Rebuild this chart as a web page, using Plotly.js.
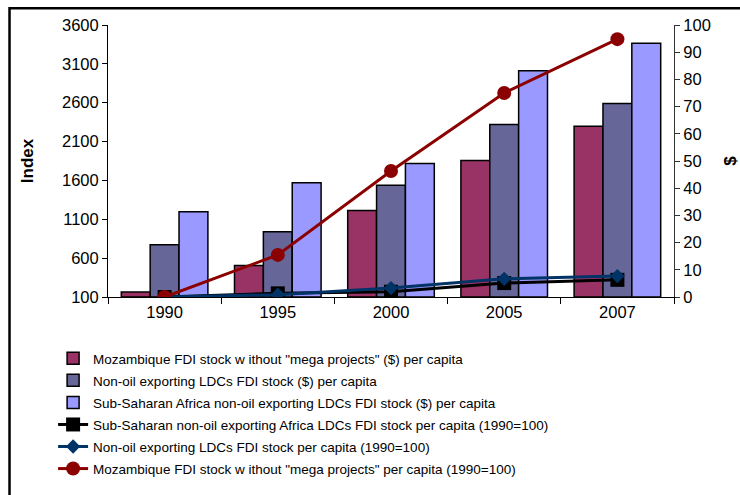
<!DOCTYPE html>
<html>
<head>
<meta charset="utf-8">
<script src="https://cdn.plot.ly/plotly-3.0.1.min.js"></script>
<style>
  html, body { margin: 0; padding: 0; background: #fff; overflow: hidden; }
  #chart { width: 740px; height: 495px; }
</style>
</head>
<body>
<div id="chart"></div>
<script>
// ---- data ----
const years = ["1990", "1995", "2000", "2005", "2007"];

// $ per capita (right axis)
const mozUsd    = [1.8, 11.6, 31.8, 50.2, 62.8];
const nonOilUsd = [19.2, 24.0, 41.1, 63.4, 71.1];
const ssaUsd    = [31.3, 42.0, 49.1, 83.2, 93.3];

// index 1990 = 100 (left axis)
const ssaIdx    = [100, 147, 168, 279, 321];
const nonOilIdx = [100, 130, 215, 334, 369];
const mozIdx    = [100, 642, 1721, 2725, 3418];

const names = {
  mozUsd: 'Mozambique FDI stock w ithout "mega projects" ($) per capita',
  nonOilUsd: 'Non-oil exporting LDCs FDI stock ($) per capita',
  ssaUsd: 'Sub-Saharan Africa non-oil exporting LDCs FDI stock ($) per capita',
  ssaIdx: 'Sub-Saharan non-oil exporting Africa LDCs FDI stock per capita (1990=100)',
  nonOilIdx: 'Non-oil exporting LDCs FDI stock per capita (1990=100)',
  mozIdx: 'Mozambique FDI stock w ithout "mega projects" per capita (1990=100)'
};

const FONT = '"Liberation Sans", Arial, sans-serif';

function bar(y, name, color, grp) {
  return {
    type: 'bar', x: years, y: y, name: name, yaxis: 'y', legendgroup: grp,
    marker: { color: color, line: { color: '#000', width: 1.5 } }
  };
}
function line(y, name, color, symbol, size, grp) {
  return {
    type: 'scatter', mode: 'lines+markers', x: years, y: y, name: name, yaxis: 'y2',
    legendgroup: grp,
    line: { color: color, width: 3 },
    marker: { color: color, symbol: symbol, size: size }
  };
}

const data = [
  bar(mozUsd, names.mozUsd, '#993366', 'g1'),
  bar(nonOilUsd, names.nonOilUsd, '#666699', 'g2'),
  bar(ssaUsd, names.ssaUsd, '#9999FF', 'g3'),
  line(ssaIdx, names.ssaIdx, '#000000', 'square', 14, 'g4'),
  line(nonOilIdx, names.nonOilIdx, '#003366', 'diamond', 11, 'g5'),
  line(mozIdx, names.mozIdx, '#8B0000', 'circle', 14, 'g6')
];

const tickFont = { family: FONT, size: 16.5, color: '#000' };

const layout = {
  width: 740, height: 495,
  margin: { l: 108, r: 66, t: 25, b: 197, pad: 0 },
  paper_bgcolor: '#fff', plot_bgcolor: '#fff',
  font: { family: FONT, color: '#000' },
  barmode: 'group', bargap: 0.235, bargroupgap: 0,
  hovermode: false,
  xaxis: {
    type: 'category', tickson: 'boundaries',
    ticks: 'outside', ticklen: 6, tickcolor: '#000',
    showline: true, linecolor: '#000', linewidth: 1,
    showgrid: false, zeroline: false, tickfont: tickFont
  },
  yaxis: {
    side: 'right', range: [0, 100], dtick: 10,
    showgrid: false, zeroline: false,
    showline: true, linecolor: '#333', linewidth: 1,
    ticks: 'outside', ticklen: 5, tickcolor: '#333',
    tickfont: tickFont,
    title: { text: '$', font: { family: FONT, size: 17, weight: 'bold' }, standoff: 16 }
  },
  yaxis2: {
    side: 'left', overlaying: 'y', range: [100, 3600], dtick: 500, tick0: 100,
    showgrid: false, zeroline: false,
    showline: true, linecolor: '#000', linewidth: 1,
    ticks: 'outside', ticklen: 5, tickcolor: '#000',
    tickfont: tickFont,
    title: { text: 'Index', font: { family: FONT, size: 17, weight: 'bold' }, standoff: 24 }
  },
  showlegend: true,
  legend: {
    x: -0.097, xanchor: 'left', y: -0.165, yanchor: 'top',
    orientation: 'v', traceorder: 'grouped', tracegroupgap: 1.5,
    font: { family: FONT, size: 13.5, color: '#000' },
    bgcolor: 'rgba(0,0,0,0)', borderwidth: 0
  },
  shapes: [{
    type: 'rect', xref: 'paper', yref: 'paper',
    x0: -0.174, x1: 1.6, y0: -1.6, y1: 1.062,
    line: { color: '#000', width: 2.5 }, fillcolor: 'rgba(0,0,0,0)'
  }]
};

Plotly.newPlot('chart', data, layout, { displayModeBar: false, staticPlot: true });
</script>
</body>
</html>
